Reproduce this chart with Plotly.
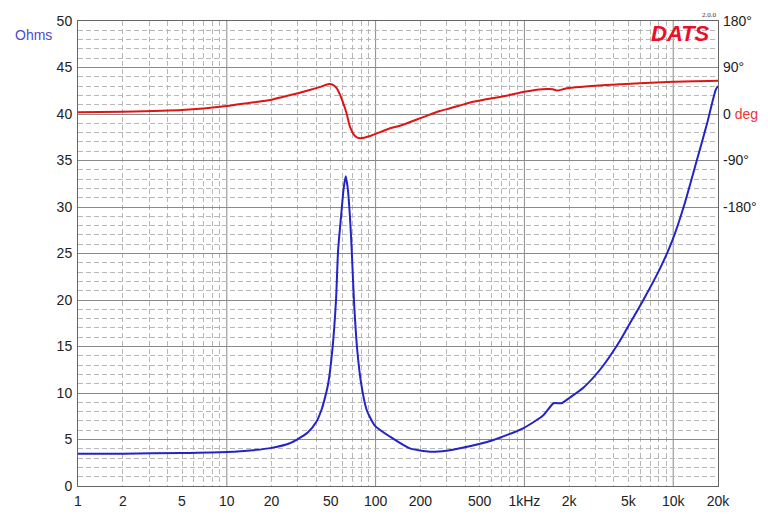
import plotly.graph_objects as go

# Impedance magnitude (Ohms)
freq_z = [1, 2, 5, 10, 15, 20, 26.5, 30, 35, 40, 43.3, 45, 48, 51.2, 54.2, 56,
          58.6, 61, 63, 65, 67.2, 69.1, 71.5, 75.3, 80, 87, 98.8, 125, 170, 232, 300,
          369, 620, 980, 1340, 1570, 1780, 2000, 2500, 3220, 4380, 5000, 6300, 8160, 9870,
          11750, 14400, 16900, 19300, 20000]
imp_ohms = [3.47, 3.48, 3.55, 3.66, 3.85, 4.1, 4.6, 5.05, 5.75, 6.9, 8.2, 9.1, 11.0,
            14.6, 20.0, 25.4, 29.0, 32.0, 33.3, 32.0, 29.0, 25.4, 20.0, 14.6, 11.0, 8.2,
            6.5, 5.3, 4.05, 3.69, 3.8, 4.05, 4.95, 6.2, 7.6, 8.9, 8.9, 9.46, 10.6, 12.5,
            15.6, 17.2, 20.0, 23.4, 26.4, 30.0, 35.0, 39.0, 42.6, 43.0]

# Phase (degrees)
freq_p = [1, 2, 5, 10, 14.3, 19.6, 24, 30, 36, 42, 48.7, 52, 54.9, 57.5, 60.7, 63.8,
          67.2, 72.7, 78.6, 91.9, 125, 146, 209, 270, 317, 453, 757, 1000, 1420, 1550,
          1650, 1800, 1930, 3570, 10000, 20000]
phase_deg = [3.3, 4.5, 7.7, 15.5, 21.9, 27, 33.5, 40, 46.4, 52, 58, 56, 49.7, 38, 20.7,
             1.3, -24.5, -42.6, -47, -42.6, -27.7, -22.6, -6, 5.8, 11, 23.8, 35.4, 43.2,
             48.4, 48, 45.5, 47.5, 49.7, 56, 62.5, 64.4]

x_tickvals = [1, 2, 5, 10, 20, 50, 100, 200, 500, 1000, 2000, 5000, 10000, 20000]
x_ticktext = ["1", "2", "5", "10", "20", "50", "100", "200", "500", "1kHz", "2k", "5k", "10k", "20k"]
x_decades = [10, 100, 1000, 10000]
x_minor = [m * d for d in [1, 10, 100, 1000, 10000] for m in range(2, 10) if m * d < 20000]

y_tickvals = [0, 5, 10, 15, 20, 25, 30, 35, 40, 45, 50]
ph_tickvals = [-180, -90, 0, 90, 180]
ph_ticktext = ["-180°", "-90°", "0 <span style='color:#e8353a'>deg</span>", "90°", "180°"]

fig = go.Figure()
fig.add_trace(go.Scatter(x=freq_z, y=imp_ohms, mode="lines",
                         line=dict(color="#2323c8", width=2, shape="spline", smoothing=0.6),
                         showlegend=False, hoverinfo="skip"))
fig.add_trace(go.Scatter(x=freq_p, y=phase_deg, mode="lines", yaxis="y2",
                         line=dict(color="#dd1515", width=2, shape="spline", smoothing=0.6),
                         showlegend=False, hoverinfo="skip"))

for d in x_decades:
    fig.add_shape(type="line", x0=d, x1=d, y0=0, y1=1, xref="x", yref="paper",
                  line=dict(color="#8a8a8a", width=1), layer="below")

font = dict(family="Liberation Sans, Arial, Helvetica, sans-serif", size=14, color="#222")
dash = "5px,3px"

fig.update_layout(
    width=760, height=508,
    margin=dict(l=70, r=50, t=13, b=30),
    paper_bgcolor="white", plot_bgcolor="white",
    font=font,
    xaxis=dict(type="log", range=[0, 4.30103], tickmode="array", tickvals=x_tickvals,
               ticktext=x_ticktext, showgrid=False, zeroline=False, ticks="",
               automargin=False, ticklabelstandoff=2,
               showline=True, linecolor="#666", linewidth=1, mirror=True,
               minor=dict(tickmode="array", tickvals=x_minor, showgrid=True,
                          gridcolor="#b8b8b8", griddash=dash, gridwidth=1, ticks="")),
    yaxis=dict(range=[0, 50], tickmode="array", tickvals=y_tickvals, showgrid=True,
               gridcolor="#8a8a8a", gridwidth=1, zeroline=False, ticks="",
               automargin=False, ticklabelstandoff=2,
               showline=True, linecolor="#666", linewidth=1, mirror=True,
               minor=dict(dtick=1, showgrid=True, gridcolor="#b8b8b8", griddash=dash,
                          gridwidth=1, ticks="")),
    yaxis2=dict(overlaying="y", side="right", range=[-720, 180], tickmode="array",
                tickvals=ph_tickvals, ticktext=ph_ticktext, showgrid=False,
                automargin=False, ticklabelstandoff=4,
                zeroline=False, ticks="", showline=False),
    annotations=[
        dict(text="Ohms", x=-0.070, y=0.970, xref="paper", yref="paper",
             xanchor="center", yanchor="middle",
             showarrow=False, font=dict(family=font["family"], size=14, color="#4a4ad0")),
        dict(text="<b><i>DATS</i></b>", x=0.991, y=0.974, xref="paper", yref="paper",
             xanchor="right", yanchor="middle", showarrow=False,
             font=dict(family="Liberation Sans, Arial, sans-serif", size=22, color="#e8102a")),
        dict(text="2.0.0", x=0.986, y=1.013, xref="paper", yref="paper",
             xanchor="center", yanchor="middle", showarrow=False,
             font=dict(family="Liberation Serif, serif", size=7, color="#333")),
    ],
)

fig.write_html("out.html")
